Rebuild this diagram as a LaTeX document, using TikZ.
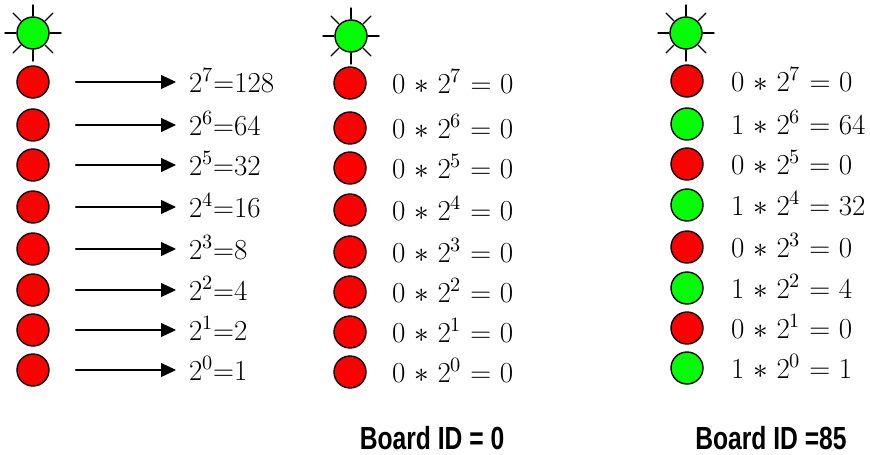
\documentclass[tikz,border=0pt]{standalone}
\usepackage{fontspec}
\usepackage{unicode-math}
\usetikzlibrary{arrows.meta}
\newfontfamily\boardfont[FakeStretch=0.77]{Liberation Sans}
\definecolor{ledOffColor}{rgb}{1.000,0.000,0.000}
\definecolor{ledOnColor}{rgb}{0.000,1.000,0.000}
\begin{document}
\begin{tikzpicture}
% LED bit columns: weights, all off, board 85
\def\ledsz{32pt}
\providecommand{\ledLineWidth}{1.4pt}
\tikzset{
  led/.style={circle, draw=black, line width=\ledLineWidth, minimum size=\ledsz, inner sep=0pt},
  ledoff/.style={led, fill=ledOffColor},
  ledon/.style={led, fill=ledOnColor},
  ledray/.style={draw=black, line width=\ledLineWidth},
  bitval/.style={anchor=base west, inner sep=0pt, font=\fontsize{29}{34}\selectfont},
  bitarrow/.style={draw=black, line width=1.3pt, -{Triangle[length=15pt,width=14pt]}, shorten <=26pt, shorten >=13pt},
  boardid/.style={anchor=base, inner sep=0pt, font=\boardfont\bfseries\fontsize{32}{38}\selectfont}
}
\begin{scope}[x=1pt, y=-1pt, line cap=round, line join=round]
  \useasboundingbox (0,0) rectangle (870,455);
  % Power LEDs with rays
  \node[ledon] (pwrA) at (33,33) {};
  \node[ledon] (pwrB) at (351,36) {};
  \node[ledon] (pwrC) at (686,33) {};
  \begin{scope}[ledray]
    \draw (pwrA.center) ++(0:17) -- ++(0:11);
    \draw (pwrA.center) ++(45:17) -- ++(45:11);
    \draw (pwrA.center) ++(90:17) -- ++(90:11);
    \draw (pwrA.center) ++(135:17) -- ++(135:11);
    \draw (pwrA.center) ++(180:17) -- ++(180:11);
    \draw (pwrA.center) ++(225:17) -- ++(225:11);
    \draw (pwrA.center) ++(270:17) -- ++(270:11);
    \draw (pwrA.center) ++(315:17) -- ++(315:11);
    \draw (pwrB.center) ++(0:17) -- ++(0:11);
    \draw (pwrB.center) ++(45:17) -- ++(45:11);
    \draw (pwrB.center) ++(90:17) -- ++(90:11);
    \draw (pwrB.center) ++(135:17) -- ++(135:11);
    \draw (pwrB.center) ++(180:17) -- ++(180:11);
    \draw (pwrB.center) ++(225:17) -- ++(225:11);
    \draw (pwrB.center) ++(270:17) -- ++(270:11);
    \draw (pwrB.center) ++(315:17) -- ++(315:11);
    \draw (pwrC.center) ++(0:17) -- ++(0:11);
    \draw (pwrC.center) ++(45:17) -- ++(45:11);
    \draw (pwrC.center) ++(90:17) -- ++(90:11);
    \draw (pwrC.center) ++(135:17) -- ++(135:11);
    \draw (pwrC.center) ++(180:17) -- ++(180:11);
    \draw (pwrC.center) ++(225:17) -- ++(225:11);
    \draw (pwrC.center) ++(270:17) -- ++(270:11);
    \draw (pwrC.center) ++(315:17) -- ++(315:11);
  \end{scope}
  % Column A: bit weights
  \node[ledoff] (bitA7) at (33,82) {};
  \node[ledoff] (bitA6) at (33,125) {};
  \node[ledoff] (bitA5) at (33,165) {};
  \node[ledoff] (bitA4) at (33,207) {};
  \node[ledoff] (bitA3) at (33,249) {};
  \node[ledoff] (bitA2) at (33,290) {};
  \node[ledoff] (bitA1) at (33,330) {};
  \node[ledoff] (bitA0) at (33,370) {};
  \node[bitval] (valA7) at (189,92) {2$^{7}$=128};
  \node[bitval] (valA6) at (189,135) {2$^{6}$=64};
  \node[bitval] (valA5) at (189,175) {2$^{5}$=32};
  \node[bitval] (valA4) at (189,217) {2$^{4}$=16};
  \node[bitval] (valA3) at (189,259) {2$^{3}$=8};
  \node[bitval] (valA2) at (189,300) {2$^{2}$=4};
  \node[bitval] (valA1) at (189,340) {2$^{1}$=2};
  \node[bitval] (valA0) at (189,380) {2$^{0}$=1};
  \draw[bitarrow] (bitA7.east) -- (bitA7.east -| valA7.west);
  \draw[bitarrow] (bitA6.east) -- (bitA6.east -| valA6.west);
  \draw[bitarrow] (bitA5.east) -- (bitA5.east -| valA5.west);
  \draw[bitarrow] (bitA4.east) -- (bitA4.east -| valA4.west);
  \draw[bitarrow] (bitA3.east) -- (bitA3.east -| valA3.west);
  \draw[bitarrow] (bitA2.east) -- (bitA2.east -| valA2.west);
  \draw[bitarrow] (bitA1.east) -- (bitA1.east -| valA1.west);
  \draw[bitarrow] (bitA0.east) -- (bitA0.east -| valA0.west);
  % Column B: board 0
  \node[ledoff] (bitB7) at (350,83) {};
  \node[ledoff] (bitB6) at (350,128) {};
  \node[ledoff] (bitB5) at (350,168) {};
  \node[ledoff] (bitB4) at (350,210) {};
  \node[ledoff] (bitB3) at (350,252) {};
  \node[ledoff] (bitB2) at (350,292) {};
  \node[ledoff] (bitB1) at (350,332) {};
  \node[ledoff] (bitB0) at (350,372) {};
  \node[bitval] (valB7) at (392,93) {0 $*$ 2$^{7}$ = 0};
  \node[bitval] (valB6) at (392,138) {0 $*$ 2$^{6}$ = 0};
  \node[bitval] (valB5) at (392,178) {0 $*$ 2$^{5}$ = 0};
  \node[bitval] (valB4) at (392,220) {0 $*$ 2$^{4}$ = 0};
  \node[bitval] (valB3) at (392,262) {0 $*$ 2$^{3}$ = 0};
  \node[bitval] (valB2) at (392,302) {0 $*$ 2$^{2}$ = 0};
  \node[bitval] (valB1) at (392,342) {0 $*$ 2$^{1}$ = 0};
  \node[bitval] (valB0) at (392,382) {0 $*$ 2$^{0}$ = 0};
  \node[boardid] (idB) at (432,449) {Board ID = 0};
  % Column C: board 85
  \node[ledoff] (bitC7) at (687,81) {};
  \node[ledon] (bitC6) at (687,124) {};
  \node[ledoff] (bitC5) at (687,164) {};
  \node[ledon] (bitC4) at (687,205) {};
  \node[ledoff] (bitC3) at (687,247) {};
  \node[ledon] (bitC2) at (687,288) {};
  \node[ledoff] (bitC1) at (687,328) {};
  \node[ledon] (bitC0) at (687,368) {};
  \node[bitval] (valC7) at (731,91) {0 $*$ 2$^{7}$ = 0};
  \node[bitval] (valC6) at (731,134) {1 $*$ 2$^{6}$ = 64};
  \node[bitval] (valC5) at (731,174) {0 $*$ 2$^{5}$ = 0};
  \node[bitval] (valC4) at (731,215) {1 $*$ 2$^{4}$ = 32};
  \node[bitval] (valC3) at (731,257) {0 $*$ 2$^{3}$ = 0};
  \node[bitval] (valC2) at (731,298) {1 $*$ 2$^{2}$ = 4};
  \node[bitval] (valC1) at (731,338) {0 $*$ 2$^{1}$ = 0};
  \node[bitval] (valC0) at (731,378) {1 $*$ 2$^{0}$ = 1};
  \node[boardid] (idC) at (771,449) {Board ID =85};
\end{scope}
\end{tikzpicture}
\end{document}
